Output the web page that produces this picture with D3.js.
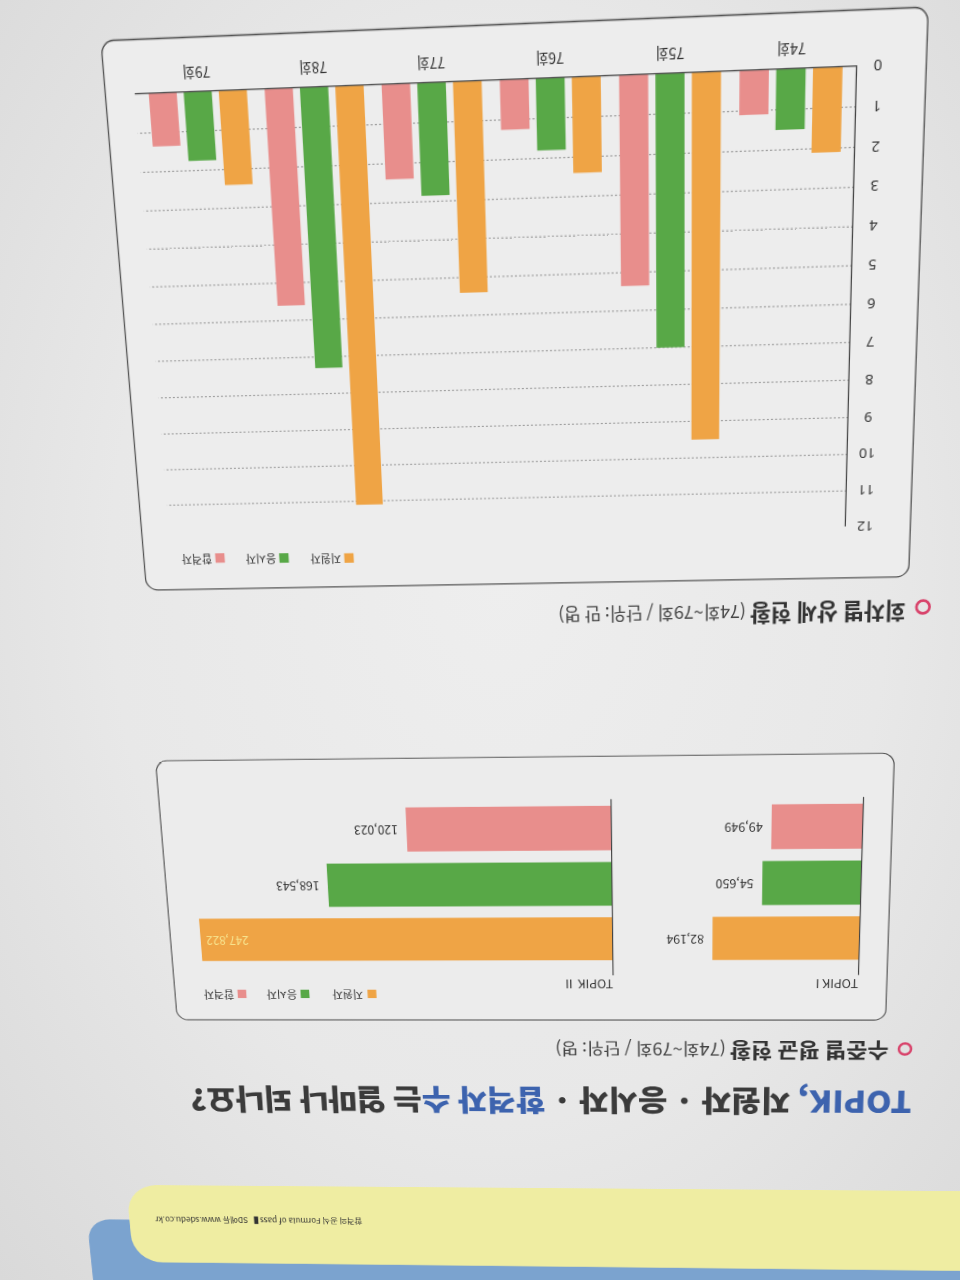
<!DOCTYPE html>
<html><head><meta charset="utf-8">
<script src="https://cdn.jsdelivr.net/npm/d3@7"></script>
<style>
html,body{margin:0;overflow:hidden;}
body{width:960px;height:1280px;background:radial-gradient(ellipse at 52% 45%, #eeeeee 0%, #e8e8e8 55%, #d9d9d9 100%);}
#wrap{position:absolute;left:0;top:0;width:960px;height:1280px;
  transform-origin:560px 600px;
  transform:rotate(-1.1deg) perspective(600px) rotateX(-5.3deg) rotateY(-1.43deg);}
svg{display:block;overflow:visible;}
text{font-family:"Noto Sans CJK KR","Noto Sans",sans-serif;}
</style></head>
<body>
<div id="wrap"><svg id="c" width="960" height="1280"></svg></div>
<script>
// ---------- data ----------
const rounds = ["74회","75회","76회","77회","78회","79회"];
const seriesNames = ["지원자","응시자","합격자"];
const applicants = [2.1, 9.5, 2.4, 5.4, 11.1, 2.4];   // 만 명
const takers     = [1.5, 7.0, 1.8, 2.85, 7.3, 1.75];
const passers    = [1.1, 5.35, 1.25, 2.4, 5.6, 1.35];
const yTicks = [0,1,2,3,4,5,6,7,8,9,10,11,12];

const levels = ["TOPIK I","TOPIK Ⅱ"];
const levelApplicants = [82194, 247822];   // 명
const levelTakers     = [54650, 168543];
const levelPassers    = [49949, 120023];

const colors = ["#efa445","#58a847","#e88e8c"];

const titleParts = [["TOPIK,","#3d63ae"],[" 지원자 · 응시자 · ","#3b3b3b"],["합격자 수","#3d63ae"],["는 얼마나 되나요?","#3b3b3b"]];
const sub1 = ["회차별 상세 현황"," (74회~79회 / 단위: 만 명)"];
const sub2 = ["수준별 평균 현황"," (74회~79회 / 단위: 명)"];
const footer = ["합격의 공식 Formula of pass","  ▌  ","SD에듀 www.sdedu.co.kr"];

// ---------- photo geometry (same numbers as the CSS transform) ----------
const O = [560, 600], P = 600, AX = -5.3, AY = -1.43, AZ = -1.1, rad = Math.PI/180;
function fwd(fx, fy){
  const x = fx - O[0], y = fy - O[1];
  const cb = Math.cos(AY*rad), sb = Math.sin(AY*rad);
  const x1 = x*cb, z1 = -x*sb, y1 = y;
  const ca = Math.cos(AX*rad), sa = Math.sin(AX*rad);
  const y2 = y1*ca - z1*sa, z2 = y1*sa + z1*ca;
  const w = 1 - z2/P, X = x1/w, Y = y2/w;
  const ct = Math.cos(AZ*rad), st = Math.sin(AZ*rad);
  return [O[0] + X*ct - Y*st, O[1] + X*st + Y*ct];
}
function inv(ix, iy){
  let f = [ix, iy];
  for (let k=0;k<60;k++){ const g = fwd(f[0],f[1]); f = [f[0]+(ix-g[0]), f[1]+(iy-g[1])]; }
  return f;
}
// photo position -> upright page position
function up(ix, iy){ const f = inv(ix, iy); return [960 - f[0], 1280 - f[1]]; }
function rectFrom(TL,TR,BR,BL){
  const a=up(...TL), b=up(...TR), d=up(...BR), e=up(...BL);
  const x0=(b[0]+d[0])/2, x1=(a[0]+e[0])/2, y0=(d[1]+e[1])/2, y1=(a[1]+b[1])/2;
  return {x:x0, y:y0, w:x1-x0, h:y1-y0};
}
function fit(sel, w){
  const L = sel.node().getComputedTextLength();
  const fs = parseFloat(sel.attr("font-size"));
  if (L > 0) sel.attr("font-size", fs * w / L);
}

const svg = d3.select("#c");
const root = svg.append("g").attr("transform","rotate(180 480 640)");

// ---------- footer bands ----------
const yelR = up(130,1226)[0], yelB = up(400,1187)[1], yelT = up(400,1265)[1];
const bluR = up(90,1250)[0], bluT = up(400,1222)[1];
root.append("rect").attr("x",-400).attr("y",-300).attr("width",bluR+400).attr("height",bluT+300).attr("rx",26).attr("fill","#7ba3cf");
root.append("rect").attr("x",-400).attr("y",yelT).attr("width",yelR+400).attr("height",yelB-yelT).attr("rx",34).attr("fill","#efeda2");
{
  const s = up(362,1218), e = up(155,1218);
  const ft = root.append("text").attr("x",s[0]).attr("y",s[1]).attr("font-size",10.5).attr("fill","#333");
  ft.append("tspan").text(footer[0]);
  ft.append("tspan").attr("font-weight","bold").text(footer[1]);
  ft.append("tspan").text(footer[2]);
  fit(ft, e[0]-s[0]);
}

// ---------- title ----------
{
  const s = up(912,1091), e = up(190,1091);
  const tt = root.append("text").attr("x",s[0]).attr("y",s[1]).attr("font-size",29).attr("font-weight",900);
  titleParts.forEach(p => tt.append("tspan").attr("fill",p[1]).text(p[0]));
  fit(tt, e[0]-s[0]);
}

// ---------- subtitles ----------
function subtitle(circ, start, end, parts){
  const c = up(...circ), s = up(...start), e = up(...end);
  root.append("circle").attr("cx",c[0]).attr("cy",c[1]).attr("r",6.4).attr("fill","none").attr("stroke","#d8436b").attr("stroke-width",2.6);
  const t = root.append("text").attr("x",s[0]).attr("y",s[1]).attr("font-size",19).attr("fill","#333");
  t.append("tspan").attr("font-weight","bold").text(parts[0]);
  t.append("tspan").attr("font-size","0.8em").attr("fill","#444").text(parts[1]);
  fit(t, e[0]-s[0]);
}
subtitle([905,1049],[889,1043],[555,1043], sub2);
subtitle([923,607],[906,602],[558,602], sub1);

function legend(g, squares, starts, sq, fs){
  const items = g.append("g").selectAll("g").data(seriesNames).join("g");
  items.append("rect").attr("x",(d,i)=>squares[i][0]-sq/2).attr("y",(d,i)=>squares[i][1]-sq/2)
    .attr("width",sq).attr("height",sq).attr("fill",(d,i)=>colors[i]);
  items.append("text").attr("x",(d,i)=>starts[i][0]).attr("y",(d,i)=>starts[i][1]).attr("dy","0.36em")
    .attr("font-size",fs).attr("fill","#333").text(d=>d);
}

// ---------- bottom chart: 수준별 평균 현황 ----------
const bot = root.append("g");
const bf = rectFrom([160,762],[895,752],[885,1022],[173,1018]);
bot.append("rect").attr("x",bf.x).attr("y",bf.y).attr("width",bf.w).attr("height",bf.h).attr("rx",12)
  .attr("fill","#ececec").attr("stroke","#555").attr("stroke-width",1.2);

const axI = up(861,886)[0], axII = up(612,886)[0];
const xl = d3.scaleBand().domain(levels).range([axI, 2*axII - axI]);
const axTop = up(861,975)[1], axBot = up(861,797)[1];
const yb = d3.scaleBand().domain(seriesNames).range([up(700,960)[1], up(700,805)[1]]).paddingInner(0.21);
const panelLen = [up(714,939)[0]-up(861,939)[0], up(200,939)[0]-up(612,939)[0]];
const fmt = d3.format(",");

const levelData = levels.map((l,i)=>({level:l, i, values:[levelApplicants[i],levelTakers[i],levelPassers[i]]}));
levelData.forEach(d=>{
  d.scale = d3.scaleLinear().domain([0, d3.max(d.values)]).range([0, panelLen[d.i]]);
});
const lg = bot.selectAll("g.level").data(levelData).join("g").attr("class","level")
  .attr("transform", d=>`translate(${xl(d.level)},0)`);
lg.selectAll("rect").data(d=>d.values.map((v,j)=>({v, s:seriesNames[j], j, sc:d.scale})))
  .join("rect").attr("x",0).attr("y",d=>yb(d.s)).attr("width",d=>d.sc(d.v)).attr("height",yb.bandwidth())
  .attr("fill",d=>colors[d.j]);
lg.append("line").attr("x1",0).attr("x2",0).attr("y1",axTop).attr("y2",axBot).attr("stroke","#444").attr("stroke-width",1.2);
const labV = up(861,979)[1];
lg.append("text").attr("x",0).attr("y",labV).attr("font-size",13).attr("fill","#333").text(d=>d.level);
lg.selectAll("text.val").data(d=>d.values.map((v,j)=>({v, s:seriesNames[j], j, sc:d.scale, inside:d.i===1 && j===0})))
  .join("text").attr("class","val")
  .attr("x",d=> d.inside ? d.sc(d.v)-6 : d.sc(d.v)+9)
  .attr("y",d=>yb(d.s)+yb.bandwidth()/2).attr("dy","0.36em")
  .attr("text-anchor",d=> d.inside ? "end" : "start")
  .attr("font-size",12.8).attr("fill",d=> d.inside ? "#f7e38e" : "#333")
  .text(d=>fmt(d.v));

legend(bot, [up(372,994),up(305,994),up(242,994)], [up(363,994),up(297,994),up(234,994)], 9.5, 12);

// ---------- top chart: 회차별 상세 현황 ----------
const tp = root.append("g");
const tf = rectFrom([97,40],[930,8],[907,577],[150,590]);
tp.append("rect").attr("x",tf.x).attr("y",tf.y).attr("width",tf.w).attr("height",tf.h).attr("rx",12)
  .attr("fill","#ededed").attr("stroke","#555").attr("stroke-width",1.3);

const p0 = up(858,66), p12 = up(845,527);
const axisU = (p0[0]+p12[0])/2;
const endU = up(135,97)[0];
const y = d3.scaleLinear().domain([0,12]).range([p0[1], p12[1]]);
const c74 = up(791,68)[0], c79 = up(198,97)[0], stp = (c79-c74)/(rounds.length-1);
const x0 = d3.scaleBand().domain(rounds).range([c74-stp/2, c79+stp/2]).paddingInner(0.153).paddingOuter(0.0765);
const x1 = d3.scaleBand().domain(seriesNames).range([0,x0.bandwidth()]).paddingInner(0.2);

tp.append("g").selectAll("line").data(yTicks.filter(d=>d>0 && d<12)).join("line")
  .attr("x1",axisU).attr("x2",endU).attr("y1",d=>y(d)).attr("y2",d=>y(d))
  .attr("stroke","#8f8f8f").attr("stroke-width",0.9).attr("stroke-dasharray","2,2");

const roundData = rounds.map((r,i)=>({round:r, values:[applicants[i],takers[i],passers[i]]}));
tp.append("g").selectAll("g").data(roundData).join("g")
  .attr("transform",d=>`translate(${x0(d.round)},0)`)
  .selectAll("rect").data(d=>d.values.map((v,j)=>({v, s:seriesNames[j], j})))
  .join("rect").attr("x",d=>x1(d.s)).attr("y",d=>y(d.v)).attr("width",x1.bandwidth())
  .attr("height",d=>y(0)-y(d.v)).attr("fill",d=>colors[d.j]);

const tickDx = up(871,305)[0] - up(851,305)[0];
const ya = tp.append("g").attr("transform",`translate(${axisU},0)`)
  .call(d3.axisLeft(y).tickValues(yTicks).tickSize(0).tickPadding(8));
ya.select(".domain").attr("stroke","#444").attr("stroke-width",1.2);
ya.selectAll("text").attr("font-size",13.5).attr("fill","#333").attr("text-anchor","middle").attr("x",tickDx)
  .style("font-family",'"Noto Sans","DejaVu Sans",sans-serif');

tp.append("line").attr("x1",axisU).attr("x2",endU).attr("y1",y(0)).attr("y2",y(0)).attr("stroke","#555").attr("stroke-width",1.2);
const catFs = 13;
const catPad = (up(793,41)[1] - up(793,67)[1]) - 0.71*catFs;
const xa = tp.append("g").attr("transform",`translate(0,${y(0)})`)
  .call(d3.axisBottom(x0).tickSize(0).tickPadding(catPad));
xa.select(".domain").remove();
xa.selectAll("text").attr("font-size",catFs).attr("fill","#333")
  .style("font-family",'"Noto Sans CJK KR",sans-serif');

legend(tp, [up(349,558),up(284,558),up(220,558)], [up(341,558),up(276,558),up(212,558)], 9.5, 11.2);
</script>
</body></html>
